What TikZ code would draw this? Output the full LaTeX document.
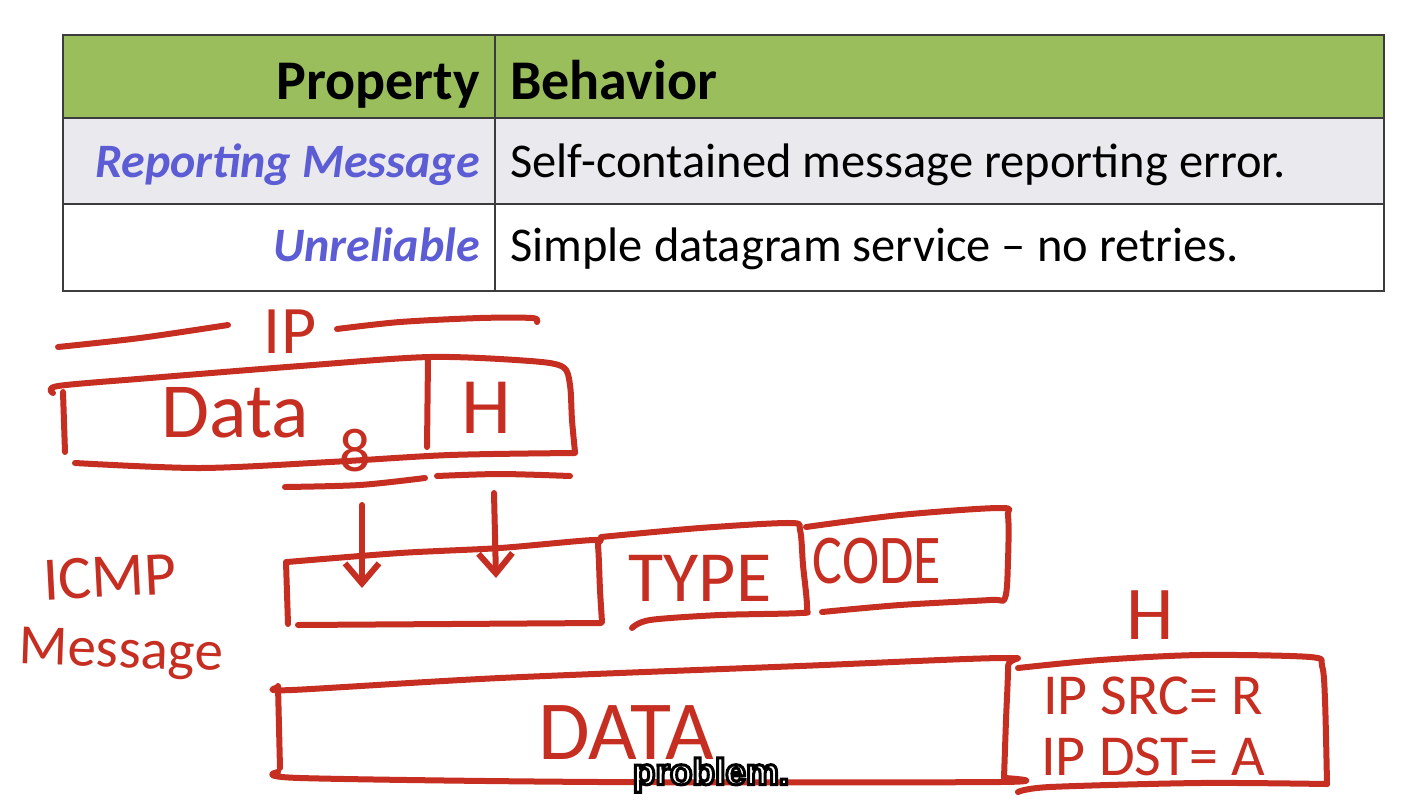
\documentclass[tikz,border=0pt]{standalone}
\usepackage{fontspec}
\setmainfont{Carlito}
\newfontfamily\handfont{Carlito}
\newfontfamily\subfont{Liberation Sans}
\usetikzlibrary{arrows.meta}
\definecolor{hdrgreen}{RGB}{155,190,92}
\definecolor{rowgray}{RGB}{234,234,238}
\definecolor{propblue}{RGB}{92,92,212}
\definecolor{ink}{RGB}{198,46,34}
\definecolor{gridline}{RGB}{60,60,60}
\tikzset{
  pen/.style={draw=ink, line width=6pt, line cap=round, line join=round},
  penarrow/.style={pen, -{Straight Barb[length=20pt,width=34pt,line width=6pt]}},
  hand/.style={text=ink, inner sep=0pt, font=\handfont},
  hdrtext/.style={inner sep=0pt, font=\fontsize{56}{60}\selectfont\bfseries},
  proptext/.style={inner sep=0pt, text=propblue, font=\fontsize{48}{54}\selectfont\bfseries\itshape},
  behtext/.style={inner sep=0pt, font=\fontsize{48.5}{54}\selectfont},
  cellline/.style={draw=gridline, line width=1.5pt}
}
\begin{document}
\begin{tikzpicture}[x=1pt,y=-1pt]
\useasboundingbox (0,0) rectangle (1402,806);
\fill[white] (0,0) rectangle (1402,806);
% ---------- table ----------
\fill[hdrgreen] (63,35) rectangle (1384,118);
\fill[rowgray] (63,118) rectangle (1384,204);
\draw[cellline] (63,35) rectangle (1384,291);
\draw[cellline] (63,118) -- (1384,118);
\draw[cellline] (63,204) -- (1384,204);
\draw[cellline] (495,35) -- (495,291);
\node[hdrtext, anchor=base east] (hprop) at (480,99) {Property};
\node[hdrtext, anchor=base west] (hbeh) at (510,99) {Behavior};
\node[proptext, anchor=base east] (p1) at (480,177) {Reporting Message};
\node[behtext, anchor=base west] (b1) at (510,177) {Self-contained message reporting error.};
\node[proptext, anchor=base east] (p2) at (480,261) {Unreliable};
\node[behtext, anchor=base west] (b2) at (510,261) {Simple datagram service -- no retries.};
% ---------- IP packet sketch ----------
\draw[pen] plot[smooth] coordinates {(58,347) (140,338) (228,325)};
\draw[pen] plot[smooth] coordinates {(337,329) (400,322) (480,318) (532,318) (537,322)};
\node[hand, font=\handfont\fontsize{68}{70}\selectfont] (iplbl) at (290,332) {IP};
\draw[pen] (63,392) -- (65,452);
\draw[pen] plot[smooth, tension=0.5] coordinates {(53,393) (58,386) (150,378) (300,366) (430,357) (530,361) (563,367) (570,385) (572,420) (575,452)};
\draw[pen] plot[smooth] coordinates {(75,463) (200,468) (330,462) (450,455) (575,453)};
\draw[pen] (428,359) -- (427,447);
\node[hand, font=\handfont\fontsize{78}{80}\selectfont] (ipdata) at (235,413) {Data};
\node[hand, font=\handfont\fontsize{80}{82}\selectfont] (iph) at (486,408) {H};
\node[hand, font=\handfont\fontsize{62}{64}\selectfont] (eight) at (355,451) {8};
\draw[pen] plot[smooth] coordinates {(285,487) (360,485) (425,478)};
\draw[pen] plot[smooth] coordinates {(437,476) (500,474) (570,476)};
% arrows
\coordinate (a1s) at (362,505);
\coordinate (a1e) at (362,588);
\coordinate (a2s) at (494,493);
\coordinate (a2e) at (496,578);
\draw[penarrow] (a1s) -- (a1e);
\draw[penarrow] (a2s) -- (a2e);
% ---------- ICMP message sketch ----------
\node[hand, font=\handfont\fontsize{62}{64}\selectfont, rotate=3] (icmp) at (110,577) {ICMP};
\node[hand, font=\handfont\fontsize{57}{60}\selectfont, rotate=-2] (msg) at (121,654) {Message};
% first box
\draw[pen] (286,562) -- (288,624);
\draw[pen] plot[smooth, tension=0.5] coordinates {(287,562) (400,553) (500,548) (594,540) (598,546) (600,590) (602,622)};
\draw[pen] plot[smooth] coordinates {(298,625) (450,624) (601,623)};
% TYPE box
\draw[pen] plot[smooth, tension=0.5] coordinates {(601,537) (700,528) (790,523) (800,530) (803,565) (807,608) (800,613) (720,615) (650,620) (632,628)};
\node[hand, font=\handfont\fontsize{72}{74}\selectfont] (type) at (700,578) {TYPE};
% CODE box
\draw[pen] plot[smooth, tension=0.5] coordinates {(806,527) (900,515) (1000,508) (1008,516) (1008,560) (1005,598) (990,600) (900,605) (822,612)};
\node[hand, font=\handfont\fontsize{70}{72}\selectfont] (code) at (877,561) {\scalebox{0.8}[1]{CODE}};
% DATA box
\draw[pen] (278,686) -- (280,768);
\draw[pen] plot[smooth, tension=0.5] coordinates {(276,688) (292,690) (500,678) (800,666) (1004,658) (1008,666) (1006,720) (1004,778)};
\draw[pen] plot[smooth] coordinates {(278,772) (300,778) (600,782) (1000,782) (1005,778)};
\node[hand, font=\handfont\fontsize{84}{86}\selectfont] (data) at (626,733) {DATA};
% H box
\node[hand, font=\handfont\fontsize{76}{78}\selectfont] (hh) at (1150,615) {H};
\draw[pen] plot[smooth, tension=0.5] coordinates {(1018,668) (1100,660) (1200,655) (1310,657) (1322,666) (1325,700) (1327,784)};
\draw[pen] plot[smooth] coordinates {(1018,792) (1050,787) (1200,783) (1327,784)};
\node[hand, font=\handfont\fontsize{58}{60}\selectfont] (src) at (1153,696) {IP SRC= R};
\node[hand, font=\handfont\fontsize{58}{60}\selectfont] (dst) at (1153,757) {IP DST= A};
% ---------- subtitle (white text, black outline) ----------
\node[inner sep=0pt, font=\subfont\fontsize{37}{39}\selectfont\bfseries, text=white] (sub) at (711,775)
  {\special{pdf:code 2 Tr 3 w 0 0 0 RG}problem.\special{pdf:code 0 Tr}};
\end{tikzpicture}
\end{document}
